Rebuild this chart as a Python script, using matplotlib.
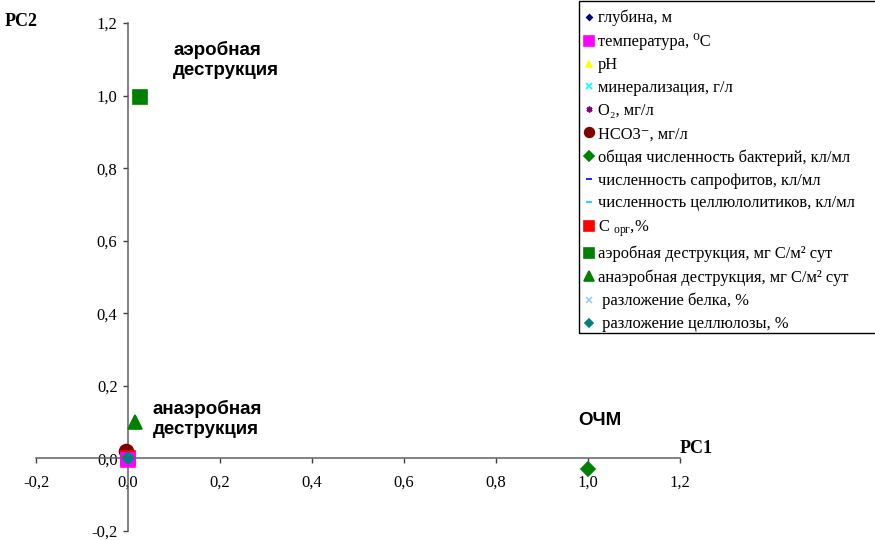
import matplotlib.pyplot as plt
from matplotlib.patches import Rectangle
from matplotlib.ticker import FuncFormatter, MultipleLocator

plt.rcParams['font.family'] = ['Liberation Serif', 'DejaVu Serif']
plt.rcParams['mathtext.fontset'] = 'custom'
plt.rcParams['mathtext.rm'] = 'Liberation Serif'
plt.rcParams['mathtext.it'] = 'Liberation Serif:italic'

# факторные нагрузки (PC1, PC2)
labels = [
    'глубина, м',
    'температура, ⁰C',
    'pH',
    'минерализация, г/л',
    'O₂, мг/л',
    'HCO3⁻, мг/л',
    'общая численность бактерий, кл/мл',
    'численность сапрофитов, кл/мл',
    'численность целлюлолитиков, кл/мл',
    'C $_{\\mathrm{орг}}$,%',
    'аэробная деструкция, мг C/м² сут',
    'анаэробная деструкция, мг C/м² сут',
    ' разложение белка, %',
    ' разложение целлюлозы, %',
]
pc1 = [0.0, 0.0, 0.0, 0.0, 0.0, -0.005, 1.0, 0.0, 0.0, 0.0, 0.026, 0.015, 0.0, 0.0]
pc2 = [0.0, -0.005, 0.0, 0.0, 0.0, 0.02, -0.028, 0.0, 0.0, 0.0, 0.995, 0.10, 0.0, 0.0]

markers = ['D', 's', '^', 'x', (6, 2, 0), 'o', 'D', '_', '_', 's', 's', '^', 'x', 'D']
colors = ['#000080', '#FF00FF', '#FFFF00', '#00FFFF', '#800080', '#800000', '#008000',
          '#0000FF', '#00CCFF', '#FF0000', '#008000', '#008000', '#99CCFF', '#008080']
sizes = [4, 10, 6, 6, 6, 10, 7.5, 6, 6, 10, 10, 10, 7, 6.5]
zorders = [3, 4, 3, 3, 3, 3, 3, 3, 3, 3, 3, 3, 3, 5]

fig = plt.figure(figsize=(8.75, 5.4), dpi=100)
ax = fig.add_axes([36 / 875, 9 / 540, 644 / 875, 508 / 540])

for x, y, lab, m, c, s, z in zip(pc1, pc2, labels, markers, colors, sizes, zorders):
    ax.plot([x], [y], linestyle='none', marker=m, color=c, markersize=s,
            markeredgewidth=1.2, label=lab, zorder=z, clip_on=False)

ax.set_xlim(-0.2, 1.2)
ax.set_ylim(-0.2, 1.2)
ax.spines['left'].set_position(('data', 0))
ax.spines['bottom'].set_position(('data', 0))
ax.spines['top'].set_visible(False)
ax.spines['right'].set_visible(False)
for side in ['left', 'bottom']:
    ax.spines[side].set_color('#606060')
    ax.spines[side].set_linewidth(1.1)

fmt = FuncFormatter(lambda v, pos: f'{v:.1f}'.replace('.', ','))
ax.xaxis.set_major_locator(MultipleLocator(0.2))
ax.yaxis.set_major_locator(MultipleLocator(0.2))
ax.xaxis.set_major_formatter(fmt)
ax.yaxis.set_major_formatter(fmt)
ax.tick_params(axis='both', direction='out', length=3.5, width=1, color='#404040',
               labelsize=12)
ax.tick_params(axis='x', pad=8)
ax.tick_params(axis='y', pad=4)

# подписи групп: отдельная строка на каждую линию
bold = dict(family=['Liberation Sans', 'DejaVu Sans'], fontweight='bold', fontsize=13.5,
            va='baseline', ha='left')
ax.text(0.098, 1.111, 'аэробная', **bold)
ax.text(0.098, 1.056, 'деструкция', **bold)
ax.text(0.054, 0.122, 'анаэробная', **bold)
ax.text(0.054, 0.067, 'деструкция', **bold)
ax.text(0.979, 0.092, 'ОЧМ', **bold)

ax.text(1.199, 0.05, 'PC1', va='top', ha='left', fontsize=13, fontweight='bold',
        clip_on=False)
fig.text(5 / 875, 1 - 13 / 540, 'PC2', va='top', ha='left', fontsize=13, fontweight='bold')

# легенда без своей рамки, рамка рисуется отдельно (уходит за правый край)
leg = fig.legend(loc='upper left', bbox_to_anchor=(579 / 875, 0.0, 0.4, 1.0 - 5 / 540),
                 mode='expand', fontsize=11.9, frameon=False,
                 handlelength=0.6, handletextpad=0.25, borderpad=0.3,
                 labelspacing=0.42, markerscale=0.7, borderaxespad=0)
fig.patches.append(Rectangle((579 / 875, 1 - 333 / 540), 0.4, 332 / 540,
                             transform=fig.transFigure, fill=False,
                             edgecolor='black', linewidth=1, zorder=0))

fig.savefig('out.png', dpi=100)
